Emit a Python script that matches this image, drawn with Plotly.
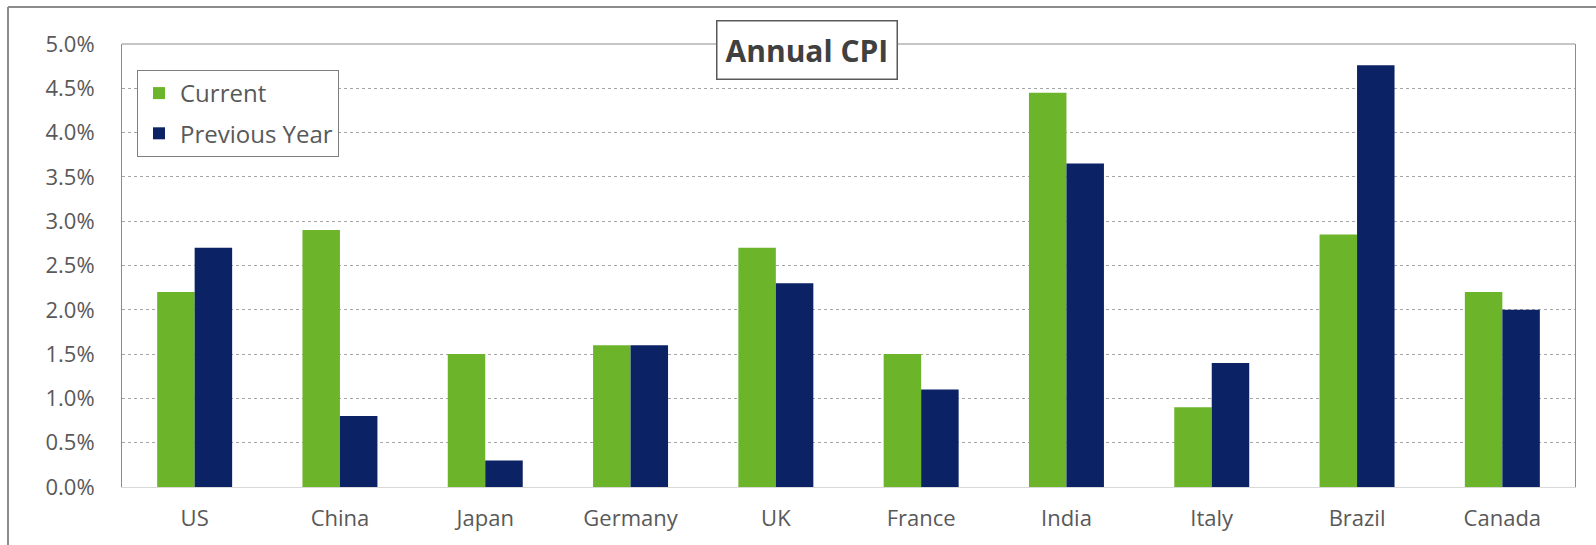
import plotly.graph_objects as go

# Annual CPI by country (fraction values)
countries = ["US", "China", "Japan", "Germany", "UK", "France", "India", "Italy", "Brazil", "Canada"]
current = [0.022, 0.029, 0.015, 0.016, 0.027, 0.015, 0.0445, 0.009, 0.0285, 0.022]
previous_year = [0.027, 0.008, 0.003, 0.016, 0.023, 0.011, 0.0365, 0.014, 0.0476, 0.020]

GREEN = "#6cb52b"
NAVY = "#0b2364"
TEXT = "#595959"
FONT = "Open Sans"

W, H = 1596, 545
L, R, T, B = 122, 21, 44, 58
pw, ph = W - L - R, H - T - B


def px_x(p):
    return (p - L) / pw


def px_y(p):
    return (H - B - p) / ph


fig = go.Figure()
fig.add_trace(go.Bar(x=countries, y=current, name="Current",
                     marker=dict(color=GREEN, line=dict(width=0)), legendgroup="a"))
fig.add_trace(go.Bar(x=countries, y=previous_year, name="Previous Year",
                     marker=dict(color=NAVY, line=dict(width=0)), legendgroup="b"))

fig.update_layout(
    width=W, height=H,
    margin=dict(l=L, r=R, t=T, b=B),
    paper_bgcolor="white", plot_bgcolor="white",
    font=dict(family=FONT, size=22, color=TEXT),
    barmode="group", bargap=0.484, bargroupgap=0,
    showlegend=True,
    legend=dict(
        x=px_x(137), y=px_y(70), xanchor="left", yanchor="top",
        bordercolor="#7f7f7f", borderwidth=1, bgcolor="white",
        font=dict(family=FONT, size=24, color=TEXT),
        tracegroupgap=6, itemwidth=32,
    ),
    xaxis=dict(
        showgrid=False, showline=True, linecolor="#d9d9d9", linewidth=1,
        ticks="", ticklabelstandoff=12,
        tickfont=dict(family=FONT, size=22, color=TEXT),
        fixedrange=True,
    ),
    yaxis=dict(
        range=[0, 0.05], dtick=0.005, tickformat=".1%",
        showgrid=True, gridcolor="#a6a6a6", gridwidth=1, griddash="3px,3px",
        showline=True, mirror=True, linecolor="#8c8c8c", linewidth=1,
        zeroline=False, ticks="", ticklabelstandoff=22,
        tickfont=dict(family=FONT, size=22, color=TEXT),
        fixedrange=True,
    ),
)

# top edge of plot area
fig.add_shape(type="line", xref="paper", yref="paper", x0=0, x1=1, y0=1, y1=1,
              line=dict(color="#8c8c8c", width=1))

# outer frame (left and top edges)
fig.add_shape(type="line", xref="paper", yref="paper",
              x0=px_x(8), x1=px_x(8), y0=px_y(7), y1=px_y(W),
              line=dict(color="#8c8c8c", width=2))
fig.add_shape(type="line", xref="paper", yref="paper",
              x0=px_x(8), x1=px_x(W + 10), y0=px_y(7), y1=px_y(7),
              line=dict(color="#8c8c8c", width=2))

# boxed title
fig.add_annotation(
    text="<b>Annual CPI</b>", xref="paper", yref="paper",
    x=px_x(807), y=px_y(50), xanchor="center", yanchor="middle",
    showarrow=False, font=dict(family=FONT, size=30, color="#404040"),
    bgcolor="white", bordercolor="#595959", borderwidth=1.5, borderpad=8,
)

fig.write_html("out.html")
